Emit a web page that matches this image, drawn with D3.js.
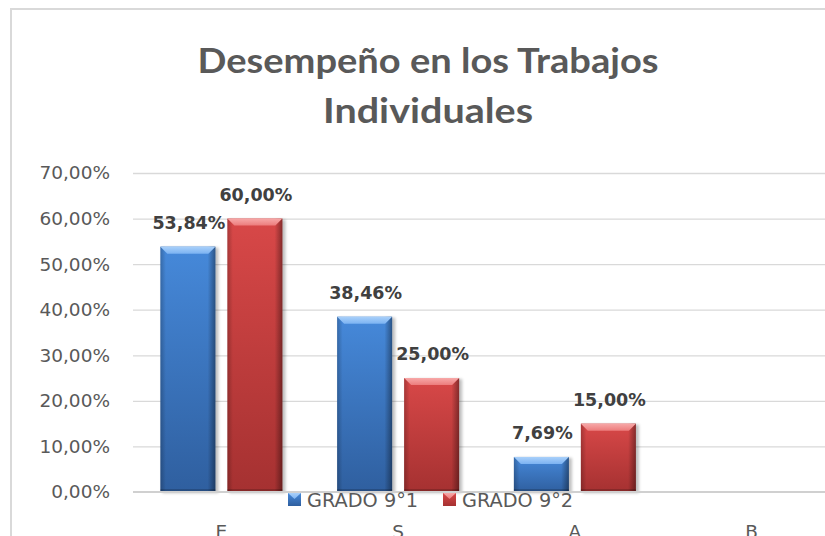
<!DOCTYPE html>
<html>
<head>
<meta charset="utf-8">
<script src="https://cdn.jsdelivr.net/npm/d3@7"></script>
<style>
  html, body { margin: 0; padding: 0; background: #ffffff; overflow: hidden; }
  svg { display: block; }
</style>
</head>
<body>
<svg id="chart" width="825" height="536"></svg>
<script>
// ---- data ----
const titleLines = ["Desempeño en los Trabajos", "Individuales"];
const categories = ["E", "S", "A", "B"];
const seriesNames = ["GRADO 9°1", "GRADO 9°2"];
const grado91 = [53.84, 38.46, 7.69, null];
const grado92 = [60.00, 25.00, 15.00, null];
const yTicks = [0, 10, 20, 30, 40, 50, 60, 70];

// ---- setup ----
const W = 825, H = 536;
const svg = d3.select("#chart");
const defs = svg.append("defs");
const esLocale = d3.formatLocale({decimal: ",", thousands: ".", grouping: [3], currency: ["", "€"]});
const fmt = v => esLocale.format(".2f")(v) + "%";

const plotLeft = 133, plotRight = 840, plotTop = 173, plotBottom = 492;
const x = d3.scaleBand().domain(categories).range([plotLeft, plotRight]).paddingInner(0).paddingOuter(0);
const x1 = d3.scaleBand().domain(seriesNames).range([-61, 61]).paddingInner(0.179).paddingOuter(0);
const y = d3.scaleLinear().domain([0, 70]).range([plotBottom, plotTop]);

const palette = {
  "GRADO 9°1": {top: "#4689da", bot: "#2f5f9f", bevel: "#7cb3f2", bevelHi: "#a9d0fa"},
  "GRADO 9°2": {top: "#d84848", bot: "#a53131", bevel: "#ec7c7c", bevelHi: "#f7a8a8"}
};

// gradients
seriesNames.forEach((s, i) => {
  const c = palette[s];
  const g = defs.append("linearGradient").attr("id", "body" + i).attr("x1", 0).attr("y1", 0).attr("x2", 0).attr("y2", 1);
  g.append("stop").attr("offset", "0%").attr("stop-color", c.top);
  g.append("stop").attr("offset", "100%").attr("stop-color", c.bot);
  const b = defs.append("linearGradient").attr("id", "bevel" + i).attr("x1", 0).attr("y1", 0).attr("x2", 0).attr("y2", 1);
  b.append("stop").attr("offset", "0%").attr("stop-color", c.bevelHi);
  b.append("stop").attr("offset", "100%").attr("stop-color", c.bevel);
});
const side = defs.append("linearGradient").attr("id", "sides").attr("x1", 0).attr("y1", 0).attr("x2", 1).attr("y2", 0);
side.append("stop").attr("offset", "0%").attr("stop-color", "#000").attr("stop-opacity", 0.22);
side.append("stop").attr("offset", "10%").attr("stop-color", "#000").attr("stop-opacity", 0.0);
side.append("stop").attr("offset", "86%").attr("stop-color", "#000").attr("stop-opacity", 0.0);
side.append("stop").attr("offset", "100%").attr("stop-color", "#000").attr("stop-opacity", 0.38);
const shadowF = defs.append("filter").attr("id", "shadow").attr("x", "-20%").attr("y", "-20%").attr("width", "140%").attr("height", "140%");
shadowF.append("feGaussianBlur").attr("stdDeviation", 1.5);

// chart border
svg.append("rect").attr("x", 11).attr("y", 9).attr("width", 900).attr("height", 700)
  .attr("fill", "none").attr("stroke", "#d9d9d9").attr("stroke-width", 2);

// title
const titleWidths = [461, 210];
svg.append("g").selectAll("text").data(titleLines).join("text")
  .attr("x", 428).attr("y", (d, i) => 73 + i * 50)
  .attr("text-anchor", "middle")
  .attr("font-family", "Lato, 'Open Sans', sans-serif")
  .attr("font-weight", 700)
  .attr("font-size", 34)
  .attr("textLength", (d, i) => titleWidths[i])
  .attr("lengthAdjust", "spacingAndGlyphs")
  .attr("fill", "#595959")
  .text(d => d);

// gridlines
const grid = svg.append("g").attr("transform", `translate(${plotLeft},0)`)
  .call(d3.axisLeft(y).tickValues(yTicks.filter(t => t > 0)).tickSize(-(W - plotLeft + 10)).tickFormat(""));
grid.select(".domain").remove();
grid.selectAll("line").attr("stroke", "#d9d9d9").attr("stroke-width", 1.3);

// y axis labels
const yAxis = svg.append("g").attr("transform", `translate(${plotLeft},0)`)
  .call(d3.axisLeft(y).tickValues(yTicks).tickSize(0).tickPadding(23).tickFormat(fmt));
yAxis.select(".domain").remove();
yAxis.selectAll("text").attr("font-family", "'DejaVu Sans', Verdana, sans-serif")
  .attr("font-size", 18.5).attr("fill", "#595959");

// bars
const rows = categories.map((c, i) => ({cat: c, vals: [grado91[i], grado92[i]]}));
const bars = [];
rows.forEach(r => r.vals.forEach((v, si) => { if (v != null) bars.push({cat: r.cat, s: seriesNames[si], si, v}); }));

const bw = x1.bandwidth();
const bg = svg.append("g");
const barG = bg.selectAll("g.bar").data(bars).join("g").attr("class", "bar")
  .attr("transform", d => `translate(${x(d.cat) + x.bandwidth() / 2 + x1(d.s)},0)`);

barG.append("rect").attr("x", 2).attr("y", d => y(d.v) + 1).attr("width", bw + 1).attr("height", d => y(0) - y(d.v))
  .attr("fill", "#000").attr("opacity", 0.25).attr("filter", "url(#shadow)");
barG.append("rect").attr("x", 0).attr("y", d => y(d.v)).attr("width", bw).attr("height", d => y(0) - y(d.v))
  .attr("fill", d => `url(#body${d.si})`);
barG.append("rect").attr("x", 0).attr("y", d => y(d.v)).attr("width", bw).attr("height", d => y(0) - y(d.v))
  .attr("fill", "url(#sides)");
const bev = 7;
barG.append("path").attr("d", d => {
  const t = y(d.v);
  return `M0,${t}L${bw},${t}L${bw - bev},${t + bev}L${bev},${t + bev}Z`;
}).attr("fill", d => `url(#bevel${d.si})`);
barG.append("rect").attr("x", 0).attr("y", d => y(0) - 3).attr("width", bw).attr("height", 3)
  .attr("fill", "#000").attr("opacity", 0.18);

// axis baseline
svg.append("line").attr("x1", plotLeft).attr("x2", W).attr("y1", y(0)).attr("y2", y(0))
  .attr("stroke", "#d0d0d0").attr("stroke-width", 2);

// data labels
svg.append("g").selectAll("text").data(bars).join("text")
  .attr("x", d => x(d.cat) + x.bandwidth() / 2 + x1(d.s) + bw / 2 + 1)
  .attr("y", d => y(d.v) - 18)
  .attr("text-anchor", "middle")
  .attr("font-family", "'DejaVu Sans', Verdana, sans-serif")
  .attr("font-weight", "bold")
  .attr("font-size", 17.5)
  .attr("fill", "#404040")
  .text(d => fmt(d.v));

// x axis labels
const xAxis = svg.append("g").attr("transform", `translate(0,${y(0)})`)
  .call(d3.axisBottom(x).tickSize(0).tickPadding(33));
xAxis.select(".domain").remove();
xAxis.selectAll("text").attr("font-family", "'DejaVu Sans', Verdana, sans-serif")
  .attr("font-size", 18.5).attr("fill", "#595959");

// legend
const legendPos = [288, 443];
const leg = svg.append("g").selectAll("g").data(seriesNames).join("g")
  .attr("transform", (d, i) => `translate(${legendPos[i]},493)`);
leg.append("rect").attr("width", 13).attr("height", 13).attr("fill", (d, i) => `url(#body${i})`);
leg.append("path").attr("d", "M0,0L13,0L6.5,6Z").attr("fill", (d, i) => `url(#bevel${i})`);
leg.append("text").attr("x", 19).attr("y", 13.5)
  .attr("font-family", "'DejaVu Sans', Verdana, sans-serif")
  .attr("font-size", 19.3).attr("fill", "#595959")
  .text(d => d);
</script>
</body>
</html>
